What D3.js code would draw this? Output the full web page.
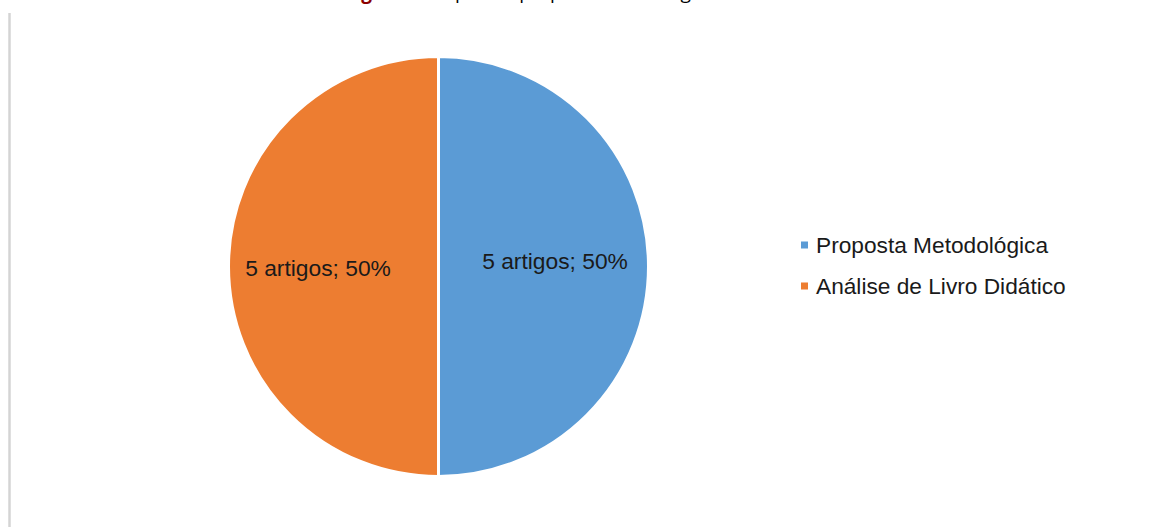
<!DOCTYPE html>
<html>
<head>
<meta charset="utf-8">
<script src="https://cdn.jsdelivr.net/npm/d3@7"></script>
<style>
  html, body { margin: 0; padding: 0; background: #ffffff; }
  svg { display: block; }
</style>
</head>
<body>
<svg id="chart" width="1155" height="527"></svg>
<script>
const categories = ["Proposta Metodológica", "Análise de Livro Didático"];
const values = [5, 5];
const percentLabels = ["50%", "50%"];
const unitLabel = "artigos";
const colors = ["#5B9BD5", "#ED7D31"];
const titleBold = "Figura 4 –";
const titleRest = " Tipos de propostas dos artigos";

const W = 1155, H = 527;
const svg = d3.select("#chart");

svg.append("rect").attr("width", W).attr("height", H).attr("fill", "#ffffff");

// left frame line
svg.append("line")
  .attr("x1", 9.5).attr("x2", 9.5).attr("y1", 13).attr("y2", H)
  .attr("stroke", "#d4d4d4").attr("stroke-width", 2.5);

// partially visible title at top (cut off by the page edge, as in the reference)
const title = svg.append("text")
  .attr("x", 345).attr("y", -1.5)
  .attr("font-family", "'Open Sans', sans-serif")
  .attr("font-size", 19);
title.append("tspan").attr("font-weight", "bold").attr("fill", "#8B0000").text(titleBold);
title.append("tspan").attr("fill", "#000").text(titleRest);

const cx = 438.5, cy = 266.5, r = 210;
const pie = d3.pie().sort(null).startAngle(0).endAngle(2 * Math.PI).value(d => d);
const arcs = pie(values);
const arc = d3.arc().innerRadius(0).outerRadius(r);

const g = svg.append("g").attr("transform", `translate(${cx},${cy})`);
g.selectAll("path").data(arcs).join("path")
  .attr("d", arc)
  .attr("fill", (d, i) => colors[i])
  .attr("stroke", "#ffffff")
  .attr("stroke-width", 3);

// data labels
const labelPos = [[555 - cx, 261 - cy], [318 - cx, 268 - cy]];
g.selectAll("text.lbl").data(arcs).join("text")
  .attr("class", "lbl")
  .attr("x", (d, i) => labelPos[i][0])
  .attr("y", (d, i) => labelPos[i][1])
  .attr("text-anchor", "middle")
  .attr("dominant-baseline", "central")
  .attr("font-family", "'Liberation Sans', Arial, sans-serif")
  .attr("font-size", 22.8)
  .attr("fill", "#1a1a1a")
  .text((d, i) => `${values[i]} ${unitLabel}; ${percentLabels[i]}`);

// legend
const legend = svg.append("g").attr("transform", "translate(801,245)");
const rows = legend.selectAll("g").data(categories).join("g")
  .attr("transform", (d, i) => `translate(0,${i * 41})`);
rows.append("rect")
  .attr("x", 0).attr("y", -3.5).attr("width", 7).attr("height", 7)
  .attr("fill", (d, i) => colors[i]);
rows.append("text")
  .attr("x", 15).attr("y", 0)
  .attr("dominant-baseline", "central")
  .attr("font-family", "'Liberation Sans', Arial, sans-serif")
  .attr("font-size", 22.7)
  .attr("fill", "#1a1a1a")
  .text(d => d);
</script>
</body>
</html>
